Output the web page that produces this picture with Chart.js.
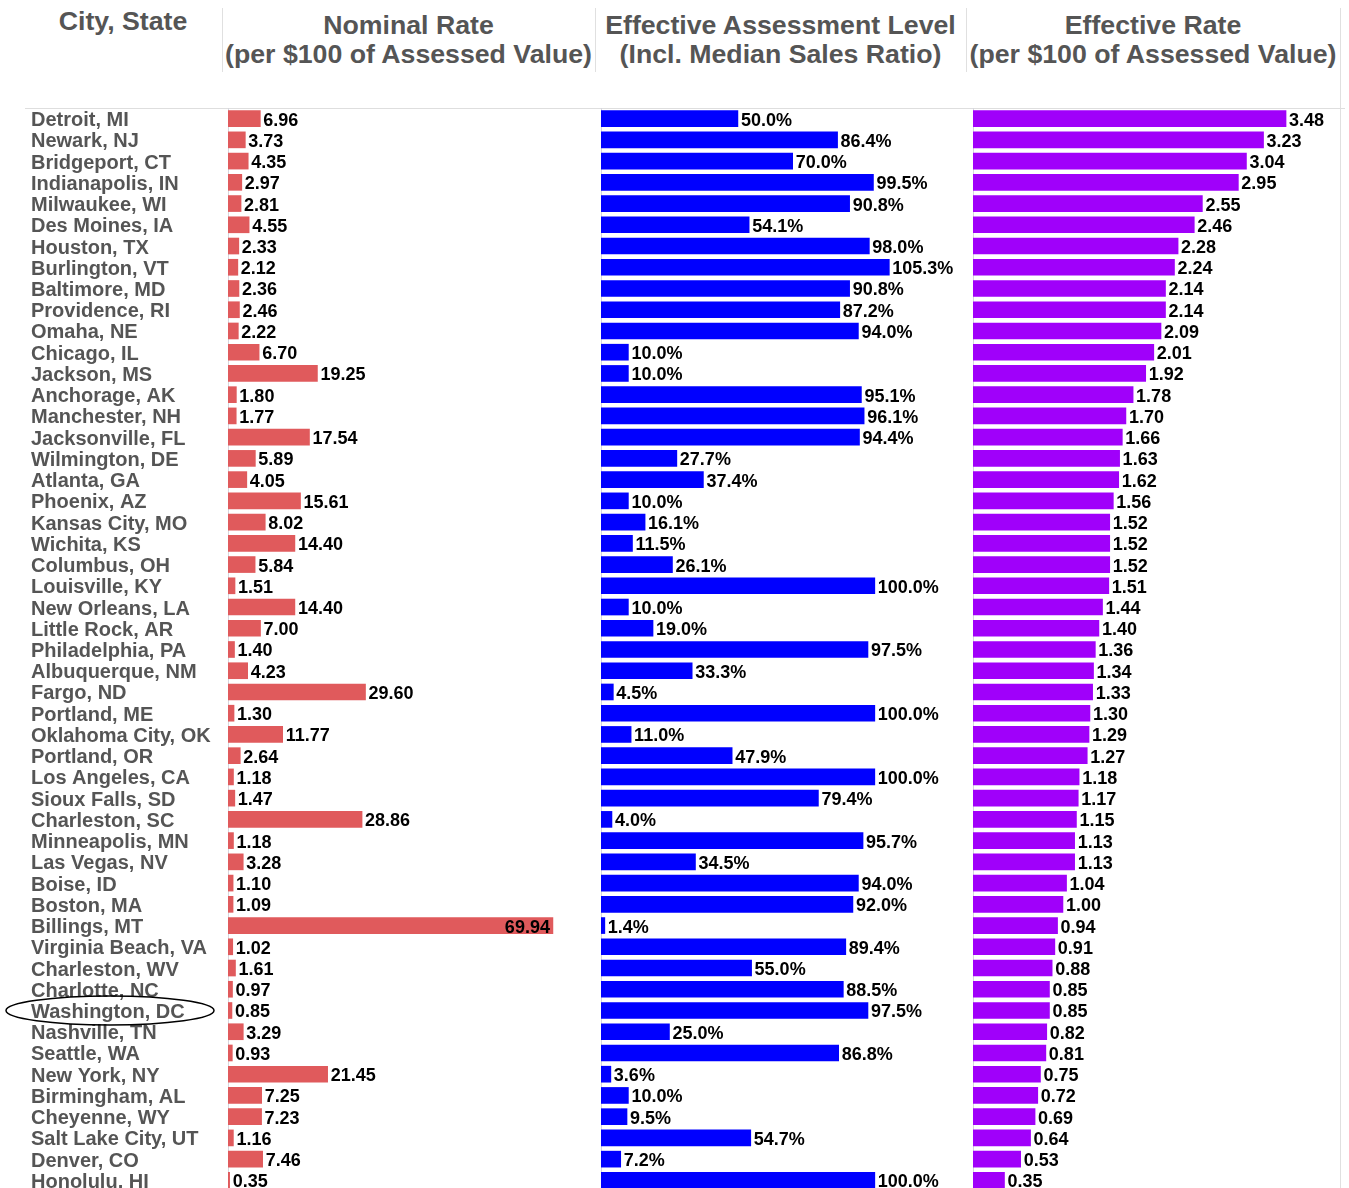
<!DOCTYPE html>
<html>
<head>
<meta charset="utf-8">
<script src="https://cdn.jsdelivr.net/npm/chart.js@4.4.1/dist/chart.umd.min.js"></script>
<style>
    html, body { margin: 0; padding: 0; background: #fff; }
    body { width: 1349px; height: 1188px; position: relative; overflow: hidden; font-family: "Liberation Sans", Arial, sans-serif; }
    .hdr { position: absolute; text-align: center; color: #555; font-weight: bold; font-size: 26.7px; line-height: 29px; white-space: nowrap; }
    .vline { position: absolute; width: 1px; background: #e0e0e0; }
    .box { position: absolute; }
</style>
</head>
<body>
<div class="hdr" style="left:24px; width:198px; top:7px;">City, State</div>
<div class="hdr" style="left:222px; width:373px; top:11px;">Nominal Rate<br>(per $100 of Assessed Value)</div>
<div class="hdr" style="left:595px; width:371px; top:11px;">Effective Assessment Level<br>(Incl. Median Sales Ratio)</div>
<div class="hdr" style="left:966px; width:374px; top:11px;">Effective Rate<br>(per $100 of Assessed Value)</div>

<div class="vline" style="left:222px; top:8px; height:64px;"></div>
<div class="vline" style="left:595px; top:8px; height:64px;"></div>
<div class="vline" style="left:966px; top:8px; height:64px;"></div>
<div class="vline" style="left:1340px; top:8px; height:1180px;"></div>
<div style="position:absolute; left:25px; top:108px; width:1320px; height:1px; background:#dedede;"></div>

<div class="box" style="left:0px; top:108px; width:595px; height:1083px;"><canvas id="nominalChart"></canvas></div>
<div class="box" style="left:601px; top:108px; width:365px; height:1083px;"><canvas id="levelChart"></canvas></div>
<div class="box" style="left:973px; top:108px; width:367px; height:1083px;"><canvas id="effectiveChart"></canvas></div>

<script>
const cities = [
    'Detroit, MI', 'Newark, NJ', 'Bridgeport, CT', 'Indianapolis, IN', 'Milwaukee, WI',
    'Des Moines, IA', 'Houston, TX', 'Burlington, VT', 'Baltimore, MD', 'Providence, RI',
    'Omaha, NE', 'Chicago, IL', 'Jackson, MS', 'Anchorage, AK', 'Manchester, NH',
    'Jacksonville, FL', 'Wilmington, DE', 'Atlanta, GA', 'Phoenix, AZ', 'Kansas City, MO',
    'Wichita, KS', 'Columbus, OH', 'Louisville, KY', 'New Orleans, LA', 'Little Rock, AR',
    'Philadelphia, PA', 'Albuquerque, NM', 'Fargo, ND', 'Portland, ME', 'Oklahoma City, OK',
    'Portland, OR', 'Los Angeles, CA', 'Sioux Falls, SD', 'Charleston, SC', 'Minneapolis, MN',
    'Las Vegas, NV', 'Boise, ID', 'Boston, MA', 'Billings, MT', 'Virginia Beach, VA',
    'Charleston, WV', 'Charlotte, NC', 'Washington, DC', 'Nashville, TN', 'Seattle, WA',
    'New York, NY', 'Birmingham, AL', 'Cheyenne, WY', 'Salt Lake City, UT', 'Denver, CO',
    'Honolulu, HI'
];

const nominalRate = [
    6.96, 3.73, 4.35, 2.97, 2.81, 4.55, 2.33, 2.12, 2.36, 2.46,
    2.22, 6.70, 19.25, 1.80, 1.77, 17.54, 5.89, 4.05, 15.61, 8.02,
    14.40, 5.84, 1.51, 14.40, 7.00, 1.40, 4.23, 29.60, 1.30, 11.77,
    2.64, 1.18, 1.47, 28.86, 1.18, 3.28, 1.10, 1.09, 69.94, 1.02,
    1.61, 0.97, 0.85, 3.29, 0.93, 21.45, 7.25, 7.23, 1.16, 7.46,
    0.35
];

const assessmentLevel = [
    50.0, 86.4, 70.0, 99.5, 90.8, 54.1, 98.0, 105.3, 90.8, 87.2,
    94.0, 10.0, 10.0, 95.1, 96.1, 94.4, 27.7, 37.4, 10.0, 16.1,
    11.5, 26.1, 100.0, 10.0, 19.0, 97.5, 33.3, 4.5, 100.0, 11.0,
    47.9, 100.0, 79.4, 4.0, 95.7, 34.5, 94.0, 92.0, 1.4, 89.4,
    55.0, 88.5, 97.5, 25.0, 86.8, 3.6, 10.0, 9.5, 54.7, 7.2,
    100.0
];

const effectiveRate = [
    3.48, 3.23, 3.04, 2.95, 2.55, 2.46, 2.28, 2.24, 2.14, 2.14,
    2.09, 2.01, 1.92, 1.78, 1.70, 1.66, 1.63, 1.62, 1.56, 1.52,
    1.52, 1.52, 1.51, 1.44, 1.40, 1.36, 1.34, 1.33, 1.30, 1.29,
    1.27, 1.18, 1.17, 1.15, 1.13, 1.13, 1.04, 1.00, 0.94, 0.91,
    0.88, 0.85, 0.85, 0.82, 0.81, 0.75, 0.72, 0.69, 0.64, 0.53,
    0.35
];

const highlightCity = 'Washington, DC';

// value labels at the end of each bar, pushed inside if they don't fit
const barLabels = {
    id: 'barLabels',
    afterDatasetsDraw(chart, args, opts) {
        const { ctx, chartArea } = chart;
        const meta = chart.getDatasetMeta(0);
        const data = chart.data.datasets[0].data;
        ctx.save();
        ctx.font = 'bold 18px "Liberation Sans", Arial, sans-serif';
        ctx.fillStyle = '#000';
        ctx.textBaseline = 'middle';
        meta.data.forEach((bar, i) => {
            const txt = opts.format(data[i]);
            const w = ctx.measureText(txt).width;
            if (bar.x + 3 + w > chartArea.right) {
                ctx.textAlign = 'right';
                ctx.fillText(txt, bar.x - 3, bar.y + 2);
            } else {
                ctx.textAlign = 'left';
                ctx.fillText(txt, bar.x + 3, bar.y + 2);
            }
        });
        ctx.restore();
    }
};

// ellipse drawn round the highlighted city name
const ringCity = {
    id: 'ringCity',
    afterDraw(chart) {
        const yScale = chart.scales.y;
        const idx = cities.indexOf(highlightCity);
        if (idx < 0) return;
        const cy = yScale.getPixelForValue(idx);
        const ctx = chart.ctx;
        ctx.save();
        ctx.strokeStyle = '#000';
        ctx.lineWidth = 1.5;
        ctx.beginPath();
        ctx.ellipse(110, cy, 104, 14.5, 0, 0, Math.PI * 2);
        ctx.stroke();
        ctx.restore();
    }
};

function makeChart(id, values, color, max, format, showNames) {
    const ctx = document.getElementById(id).getContext('2d');
    return new Chart(ctx, {
        type: 'bar',
        data: {
            labels: cities,
            datasets: [{
                data: values,
                backgroundColor: color,
                borderWidth: 0,
                barThickness: 16
            }]
        },
        options: {
            indexAxis: 'y',
            responsive: true,
            maintainAspectRatio: false,
            animation: false,
            layout: { padding: { left: showNames ? 31 : 0, right: 0, top: 0, bottom: 0 } },
            plugins: {
                legend: { display: false },
                tooltip: { enabled: false },
                barLabels: { format: format }
            },
            scales: {
                x: { display: false, min: 0, max: max },
                y: {
                    grid: { display: false, drawTicks: false },
                    border: { display: true, color: '#d6d6de', width: 1 },
                    ticks: {
                        display: showNames,
                        autoSkip: false,
                        crossAlign: 'far',
                        labelOffset: 2,
                        color: '#555',
                        font: { family: '"Liberation Sans", Arial, sans-serif', size: 20, weight: 'bold' }
                    },
                    afterFit: (scale) => {
                        scale.width = showNames ? 197 : 0;
                        // rows fill the full height, no room kept for label overhang
                        scale.paddingTop = 0;
                        scale.paddingBottom = 0;
                    }
                }
            }
        },
        plugins: showNames ? [barLabels, ringCity] : [barLabels]
    });
}

makeChart('nominalChart', nominalRate, '#e05a5c', 79, v => v.toFixed(2), true);
makeChart('levelChart', assessmentLevel, '#0000ff', 133.3, v => v.toFixed(1) + '%', false);
makeChart('effectiveChart', effectiveRate, '#a000fa', 4.08, v => v.toFixed(2), false);
</script>
</body>
</html>
